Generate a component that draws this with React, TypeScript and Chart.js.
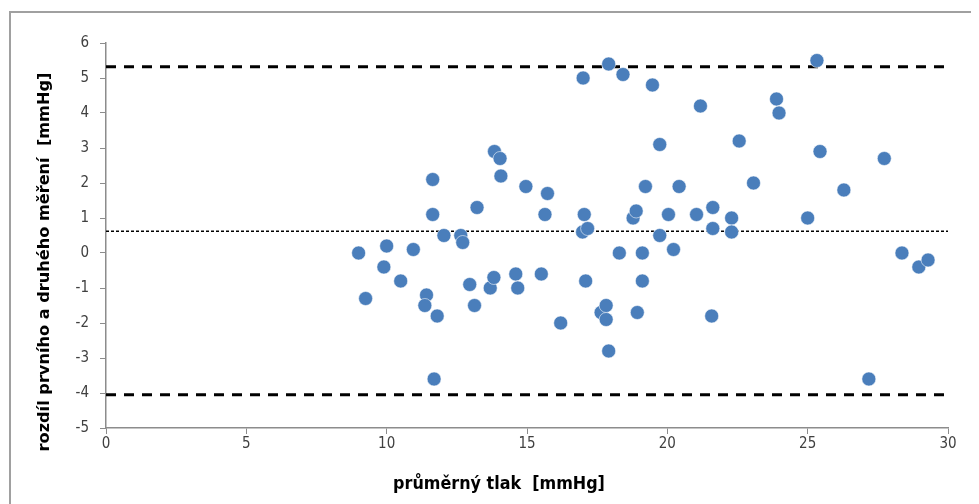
import React, { useEffect, useRef } from "react";
import { Chart, registerables } from "chart.js";

Chart.register(...registerables);

// Mean pressure (x) and difference between first and second measurement (y)
const meanPressure: number[] = [
  9.0, 9.25, 9.9, 10.0, 10.5, 10.95, 11.42, 11.36, 11.64, 11.64, 11.8, 11.69,
  12.04, 12.64, 12.71, 12.96, 13.22, 13.13, 13.69, 13.82, 13.84, 14.04, 14.07,
  14.6, 14.67, 14.96, 15.51, 15.64, 15.73, 16.2, 17.0, 17.04, 16.98, 17.16,
  17.09, 17.64, 17.82, 17.82, 17.91, 17.91, 18.42, 18.29, 18.78, 18.89, 18.93,
  19.11, 19.11, 19.22, 19.47, 19.73, 19.73, 20.04, 20.22, 20.42, 21.04, 21.18,
  21.62, 21.62, 21.58, 22.29, 22.29, 22.56, 23.07, 23.89, 23.98, 25.0, 25.33,
  25.44, 26.29, 27.18, 27.73, 28.36, 28.96, 29.29,
];
const difference: number[] = [
  0.0, -1.3, -0.4, 0.2, -0.8, 0.1, -1.2, -1.5, 2.1, 1.1, -1.8, -3.6,
  0.5, 0.5, 0.3, -0.9, 1.3, -1.5, -1.0, -0.7, 2.9, 2.7, 2.2,
  -0.6, -1.0, 1.9, -0.6, 1.1, 1.7, -2.0, 5.0, 1.1, 0.6, 0.7,
  -0.8, -1.7, -1.5, -1.9, 5.4, -2.8, 5.1, 0.0, 1.0, 1.2, -1.7,
  0.0, -0.8, 1.9, 4.8, 3.1, 0.5, 1.1, 0.1, 1.9, 1.1, 4.2,
  1.3, 0.7, -1.8, 1.0, 0.6, 3.2, 2.0, 4.4, 4.0, 1.0, 5.5,
  2.9, 1.8, -3.6, 2.7, 0.0, -0.4, -0.2,
];

// Reference lines
const xRange: number[] = [0, 30];
const meanDiff = 0.62;
const upperLimit = 5.32;
const lowerLimit = -4.05;

const xTitle = "průměrný tlak  [mmHg]";
const yTitle = "rozdíl prvního a druhého měření  [mmHg]";

const CANVAS_W = 971;
const CANVAS_H = 496;

const tickFont = "'Liberation Sans Narrow', 'DejaVu Sans Condensed', Roboto, sans-serif";

function fitFont(ctx: CanvasRenderingContext2D, text: string, family: string, target: number) {
  ctx.font = `bold 100px ${family}`;
  const w = ctx.measureText(text).width;
  const size = Math.max(10, Math.min(22, (target / w) * 100));
  return `bold ${size.toFixed(2)}px ${family}`;
}

const titlesPlugin = {
  id: "axisTitles",
  afterDraw(chart: any) {
    const ctx: CanvasRenderingContext2D = chart.ctx;
    ctx.save();
    ctx.fillStyle = "#000000";
    ctx.textAlign = "center";
    ctx.textBaseline = "middle";
    ctx.font = fitFont(ctx, xTitle, tickFont, 212);
    ctx.fillText(xTitle, 491, 476);
    ctx.translate(37, 254);
    ctx.rotate(-Math.PI / 2);
    ctx.font = fitFont(ctx, yTitle, "'DejaVu Sans', Verdana, sans-serif", 379);
    ctx.fillText(yTitle, 0, 0);
    ctx.restore();
  },
};

function hLine(y: number) {
  return xRange.map((x) => ({ x, y }));
}

export default function App() {
  const ref = useRef<HTMLCanvasElement | null>(null);

  useEffect(() => {
    if (!ref.current) return;
    const chart = new Chart(ref.current, {
      type: "scatter",
      data: {
        datasets: [
          {
            label: "rozdíl",
            data: meanPressure.map((x, i) => ({ x, y: difference[i] })),
            backgroundColor: "#4A7EBB",
            borderColor: "rgba(255,255,255,0.55)",
            borderWidth: 1,
            pointRadius: 7,
            pointHoverRadius: 7,
            order: 0,
          },
          {
            type: "line",
            label: "upper",
            data: hLine(upperLimit),
            borderColor: "#000000",
            borderWidth: 3,
            borderDash: [10, 8],
            pointRadius: 0,
            showLine: true,
            fill: false,
            order: 1,
          },
          {
            type: "line",
            label: "mean",
            data: hLine(meanDiff),
            borderColor: "#000000",
            borderWidth: 1.5,
            borderDash: [3, 2],
            pointRadius: 0,
            showLine: true,
            fill: false,
            order: 1,
          },
          {
            type: "line",
            label: "lower",
            data: hLine(lowerLimit),
            borderColor: "#000000",
            borderWidth: 3,
            borderDash: [10, 8],
            pointRadius: 0,
            showLine: true,
            fill: false,
            order: 1,
          },
        ],
      } as any,
      options: {
        animation: false,
        responsive: false,
        maintainAspectRatio: false,
        layout: { padding: { left: 0, top: 35, right: 31, bottom: 0 } },
        plugins: {
          legend: { display: false },
          tooltip: { enabled: false },
        },
        scales: {
          x: {
            type: "linear",
            min: 0,
            max: 30,
            ticks: {
              stepSize: 5,
              color: "#404040",
              font: { family: tickFont, size: 15 },
              padding: 1,
            },
            grid: {
              drawOnChartArea: false,
              drawTicks: true,
              tickLength: 6,
              color: "#8c8c8c",
            },
            border: { display: true, color: "#8c8c8c", width: 1.5 },
            afterFit: (scale: any) => {
              scale.height = 76;
            },
          },
          y: {
            type: "linear",
            min: -5,
            max: 6,
            ticks: {
              stepSize: 1,
              color: "#404040",
              font: { family: tickFont, size: 15 },
              padding: 11,
            },
            grid: {
              drawOnChartArea: false,
              drawTicks: true,
              tickLength: 6,
              color: "#8c8c8c",
            },
            border: { display: true, color: "#8c8c8c", width: 1.5 },
            afterFit: (scale: any) => {
              scale.width = 98;
            },
          },
        },
      },
      plugins: [titlesPlugin],
    } as any);
    return () => chart.destroy();
  }, []);

  return (
    <div style={{ position: "relative", width: CANVAS_W, height: CANVAS_H, overflow: "hidden", background: "#ffffff" }}>
      <div
        style={{
          position: "absolute",
          left: 1,
          top: 3,
          width: 1200,
          height: 800,
          border: "2px solid #a0a0a0",
          boxSizing: "border-box",
        }}
      />
      <canvas
        ref={ref}
        width={CANVAS_W}
        height={CANVAS_H}
        style={{ position: "absolute", left: 0, top: 0, width: CANVAS_W, height: CANVAS_H }}
      />
    </div>
  );
}
